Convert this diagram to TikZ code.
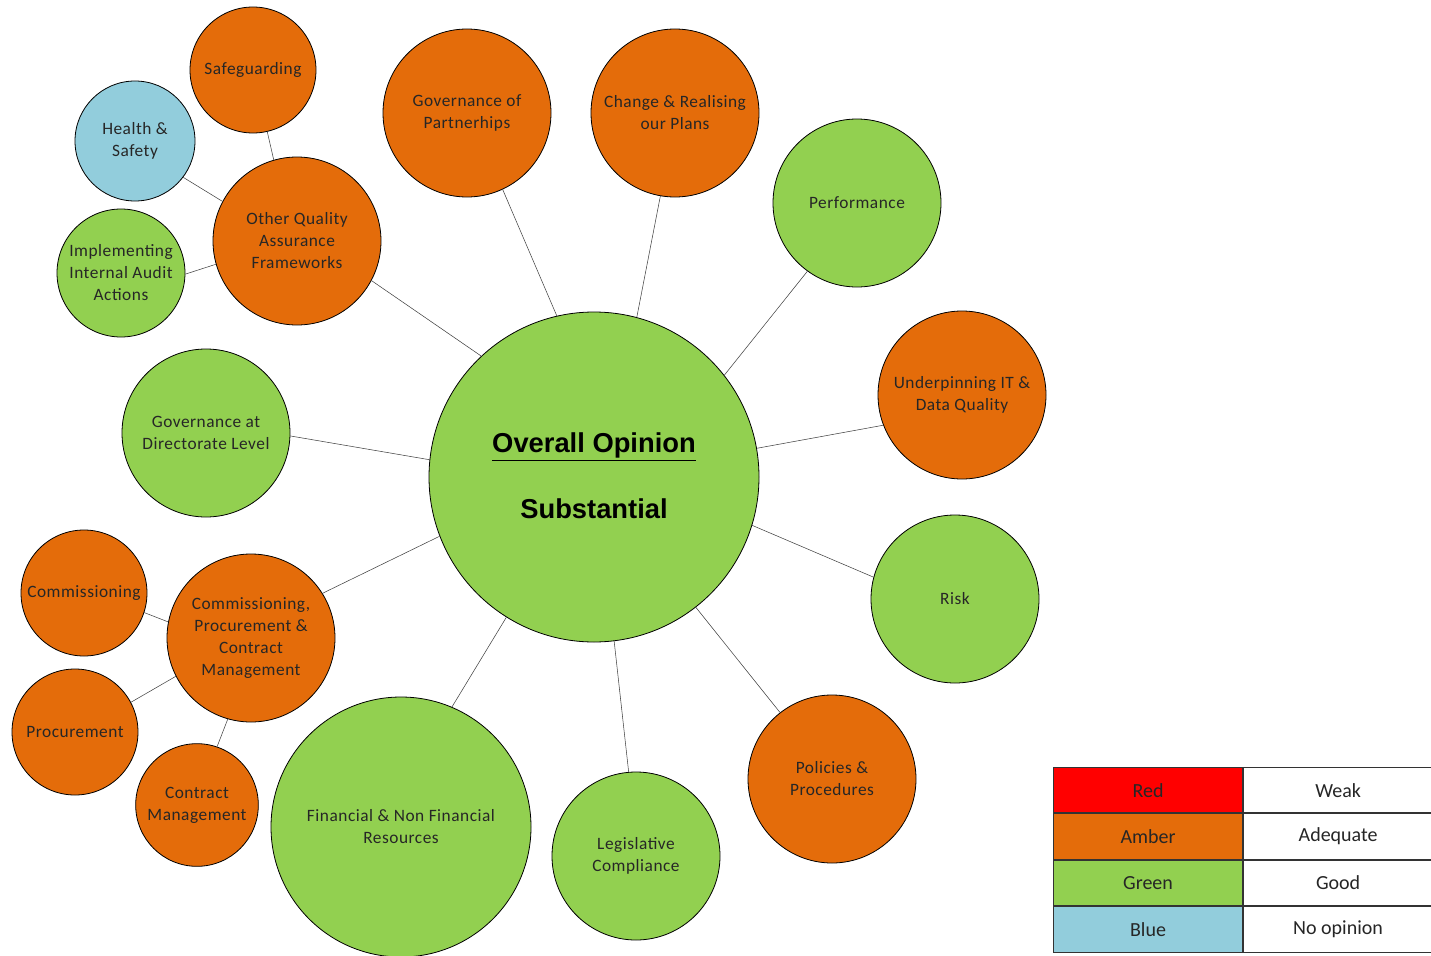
\documentclass[tikz,border=0pt]{standalone}
\usepackage{fontspec}
\setmainfont{Carlito}
\newfontfamily\bubfont{Carlito}[LetterSpace=3]
\newfontfamily\arialfont{Liberation Sans}
\definecolor{amber}{HTML}{E46C0A}
\definecolor{grn}{HTML}{92D050}
\definecolor{blu}{HTML}{92CDDC}
\definecolor{rd}{HTML}{FF0000}
\definecolor{txt}{HTML}{262626}
\tikzset{
  bub/.style={circle, draw=black, line width=0.6pt, inner sep=0pt, align=center,
    text=txt, font=\bubfont\fontsize{13}{16.5}\selectfont},
  amb/.style={bub, fill=amber},
  gre/.style={bub, fill=grn},
  blue/.style={bub, fill=blu},
  link/.style={draw=black!75, line width=0.4pt},
  leg/.style={draw=black!80, line width=0.8pt, minimum width=141.75pt, minimum height=34pt, inner sep=0pt,
    font=\fontsize{15}{18}\selectfont, text=black!85},
  big/.style={font=\arialfont\bfseries\fontsize{20.5}{24}\selectfont, text=black},
}
\begin{document}
\begin{tikzpicture}[x=0.75pt,y=-0.75pt]
\useasboundingbox (0,0) rectangle (1431,956);
% nodes
\node[gre, minimum size=247.5pt] (c) at (594,477) {};
\node[big] (t1) at (594,447) {\underline{Overall Opinion}};
\node[big] (t2) at (594,509) {Substantial};
\node[amb, minimum size=94.5pt] (saf) at (253,70) {Safeguarding};
\node[blue, minimum size=90pt] (hs) at (135,141) {Health \&\\Safety};
\node[amb, minimum size=126pt] (oqa) at (297,241) {Other Quality\\Assurance\\Frameworks};
\node[gre, minimum size=96pt] (iia) at (121,273) {Implementing\\Internal Audit\\Actions};
\node[amb, minimum size=126pt] (gop) at (467,113) {Governance of\\Partnerhips};
\node[amb, minimum size=126pt] (chg) at (675,113) {Change \& Realising\\our Plans};
\node[gre, minimum size=126pt] (perf) at (857,203) {Performance};
\node[amb, minimum size=126pt] (it) at (962,395) {Underpinning IT \&\\Data Quality};
\node[gre, minimum size=126pt] (risk) at (955,599) {Risk};
\node[amb, minimum size=126pt] (pol) at (832,779) {Policies \&\\Procedures};
\node[gre, minimum size=126pt] (leg) at (636,856) {Legislative\\Compliance};
\node[gre, minimum size=195pt] (fin) at (401,827) {Financial \& Non Financial\\Resources};
\node[gre, minimum size=126pt] (gdl) at (206,433) {Governance at\\Directorate Level};
\node[amb, minimum size=126pt] (cpc) at (251,638) {Commissioning,\\Procurement \&\\Contract\\Management};
\node[amb, minimum size=94.5pt] (com) at (84,593) {Commissioning};
\node[amb, minimum size=94.5pt] (pro) at (75,732) {Procurement};
\node[amb, minimum size=92pt] (cm) at (197,805) {Contract\\Management};
% links
\draw[link] (c.103.4) -- (gop.-65.2);
\draw[link] (c.75.5) -- (chg.260);
\draw[link] (c.38) -- (perf.234);
\draw[link] (c.10) -- (it.201);
\draw[link] (c.-17.4) -- (risk.165);
\draw[link] (c.-52) -- (pol.128);
\draw[link] (c.-83.4) -- (leg.95.5);
\draw[link] (c.238.3) -- (fin.67.6);
\draw[link] (c.201.6) -- (cpc.32.4);
\draw[link] (c.174.8) -- (gdl.-2);
\draw[link] (c.133.3) -- (oqa.-28.6);
\draw[link] (oqa.106.7) -- (saf.-77.3);
\draw[link] (oqa.152) -- (hs.-37.6);
\draw[link] (oqa.196) -- (iia.-1);
\draw[link] (cpc.169.5) -- (com.-18);
\draw[link] (cpc.207.5) -- (pro.28.5);
\draw[link] (cpc.-106) -- (cm.71.6);
% legend
\node[leg, fill=rd, anchor=north west] (l1) at (1053,767) {Red};
\node[leg, fill=amber, anchor=north] (l2) at (l1.south) {Amber};
\node[leg, fill=grn, anchor=north] (l3) at (l2.south) {Green};
\node[leg, fill=blu, anchor=north] (l4) at (l3.south) {Blue};
\node[leg, fill=white, anchor=west] (r1) at (l1.east) {Weak};
\node[leg, fill=white, anchor=west] (r2) at (l2.east) {Adequate};
\node[leg, fill=white, anchor=west] (r3) at (l3.east) {Good};
\node[leg, fill=white, anchor=west] (r4) at (l4.east) {No opinion};
\end{tikzpicture}
\end{document}
